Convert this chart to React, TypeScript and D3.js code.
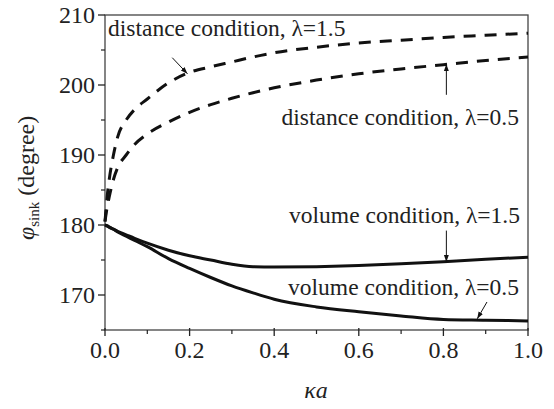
import React from 'react';
import * as d3 from 'd3';

// sample grid for kappa*a
const ka = [0, 0.005, 0.01, 0.02, 0.03, 0.05, 0.07, 0.1, 0.15, 0.2, 0.25, 0.3, 0.35, 0.4, 0.5, 0.6, 0.7, 0.8, 0.9, 1.0];

// phi_sink (degree)
const distance15 = [180.5, 184, 186.5, 190, 192.6, 195, 196.5, 198, 200.3, 201.8, 202.6, 203.3, 204.0, 204.6, 205.4, 206.0, 206.4, 206.8, 207.1, 207.4];
const distance05 = [180.5, 182.5, 184, 186.5, 188.2, 190, 191.5, 193, 194.7, 196.1, 197.2, 198.1, 198.9, 199.6, 200.7, 201.6, 202.3, 202.9, 203.5, 204.0];
const volume15 = [180, 179.9, 179.7, 179.4, 179.1, 178.6, 178.1, 177.4, 176.4, 175.6, 175.0, 174.4, 174.05, 174.0, 174.05, 174.2, 174.45, 174.75, 175.1, 175.4];
const volume05 = [180, 179.85, 179.7, 179.4, 179.0, 178.4, 177.8, 176.9, 175.2, 173.8, 172.5, 171.3, 170.3, 169.4, 168.3, 167.6, 167.0, 166.5, 166.4, 166.3];

const xTicks = [0, 0.2, 0.4, 0.6, 0.8, 1.0];
const xMinor = [0.1, 0.3, 0.5, 0.7, 0.9];
const yTicks = [170, 180, 190, 200, 210];
const yMinor = [165, 175, 185, 195, 205];

const width = 554;
const height = 409;

export default function App() {
  const x = d3.scaleLinear().domain([0, 1]).range([105, 528]);
  const y = d3.scaleLinear().domain([165, 210]).range([330, 15]);

  const line = d3.line<number>()
    .x((_, i) => x(ka[i]))
    .y(d => y(d))
    .curve(d3.curveMonotoneX);

  const series = [
    { values: distance15, dashed: true },
    { values: distance05, dashed: true },
    { values: volume15, dashed: false },
    { values: volume05, dashed: false },
  ];

  // annotation: text + arrow (arrow ends in data coords)
  const notes = [
    { text: 'distance condition, λ=1.5', tx: 108, ty: 36, anchor: 'start', from: [0.159, 203.9], to: [0.195, 201.6] },
    { text: 'distance condition, λ=0.5', tx: 519, ty: 125, anchor: 'end', from: [0.807, 198.6], to: [0.807, 203.0] },
    { text: 'volume condition, λ=1.5', tx: 520, ty: 223, anchor: 'end', from: [0.807, 179.2], to: [0.807, 174.7] },
    { text: 'volume condition, λ=0.5', tx: 519, ty: 295, anchor: 'end', from: [0.903, 169.0], to: [0.88, 166.6] },
  ];

  return (
    <svg width={width} height={height} fontFamily="Liberation Serif"
      style={{ position: 'absolute', left: 0, top: 0, background: '#fff', fontFamily: 'Liberation Serif' }}>
      <defs>
        <marker id="arr" viewBox="0 0 10 10" refX="10" refY="5" markerWidth="7" markerHeight="7" orient="auto">
          <path d="M0,1.5 L10,5 L0,8.5 Z" fill="#111" />
        </marker>
      </defs>

      {/* frame */}
      <rect x={x(0)} y={y(210)} width={x(1) - x(0)} height={y(165) - y(210)} fill="none" stroke="#444" strokeWidth={1.3} />

      {/* x ticks */}
      {xTicks.map(t => (
        <g key={'xt' + t}>
          <line x1={x(t)} x2={x(t)} y1={y(165) - 2} y2={y(165) + 6} stroke="#222" strokeWidth={1.3} />
          <text x={x(t)} y={358} textAnchor="middle" fontSize={24} fill="#222">{t.toFixed(1)}</text>
        </g>
      ))}
      {xMinor.map(t => (
        <line key={'xm' + t} x1={x(t)} x2={x(t)} y1={y(165)} y2={y(165) + 4} stroke="#222" strokeWidth={1.2} />
      ))}

      {/* y ticks */}
      {yTicks.map(t => (
        <g key={'yt' + t}>
          <line x1={x(0) - 7} x2={x(0)} y1={y(t)} y2={y(t)} stroke="#222" strokeWidth={1.3} />
          <text x={95} y={y(t) + 8} textAnchor="end" fontSize={24} fill="#222">{t}</text>
        </g>
      ))}
      {yMinor.map(t => (
        <line key={'ym' + t} x1={x(0) - 4} x2={x(0)} y1={y(t)} y2={y(t)} stroke="#222" strokeWidth={1.2} />
      ))}

      {/* curves */}
      {series.map((s, i) => (
        <path key={i} d={line(s.values) || ''} fill="none" stroke="#111" strokeWidth={3}
          strokeDasharray={s.dashed ? '12,9' : undefined} />
      ))}

      {/* annotations */}
      {notes.map((n, i) => (
        <g key={'n' + i}>
          <text x={n.tx} y={n.ty} textAnchor={n.anchor as any} fontSize={23.5} fill="#222">{n.text}</text>
          <line x1={x(n.from[0])} y1={y(n.from[1])} x2={x(n.to[0])} y2={y(n.to[1])} stroke="#111" strokeWidth={1} markerEnd="url(#arr)" />
        </g>
      ))}

      {/* axis titles */}
      <text x={316} y={398} textAnchor="middle" fontSize={24} fontStyle="italic" fill="#222">κa</text>
      <text transform="translate(34,240) rotate(-90)" fontSize={24} fill="#222">
        <tspan fontStyle="italic">φ</tspan>
        <tspan fontSize={15} dy={5}>sink</tspan>
        <tspan dy={-5}> (degree)</tspan>
      </text>
    </svg>
  );
}
